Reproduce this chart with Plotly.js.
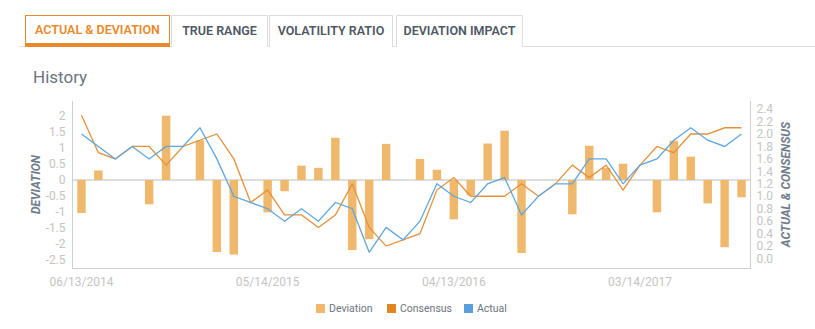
<!DOCTYPE html>
<html><head><meta charset="utf-8">
<script src="https://cdn.plot.ly/plotly-3.0.1.min.js"></script>
<style>
html,body{margin:0;padding:0;background:#fff;width:815px;height:329px;overflow:hidden;font-family:Roboto,Arial,sans-serif;}
#wrap{position:relative;width:815px;height:329px;}
#chart{position:absolute;left:0;top:0;width:815px;height:329px;}
.tabline{position:absolute;left:19px;right:0;top:46px;height:1px;background:#dedede;}
.tab{position:absolute;top:15px;height:32px;box-sizing:border-box;border:1px solid #dcdcdc;border-bottom:none;font-size:12.5px;font-weight:600;color:#4e5764;text-align:center;line-height:30px;background:#fff;white-space:nowrap;}
.tab.active{border:1px solid #e8892a;border-bottom:4px solid #e8892a;color:#e8892a;line-height:27px;}
.history{position:absolute;left:33px;top:67px;font-size:17px;line-height:20px;color:#6b7480;}
.lg{position:absolute;top:302px;height:14px;font-size:10.5px;line-height:14px;color:#6c7380;white-space:nowrap;}
.lg i{display:inline-block;width:9px;height:9px;margin-right:4px;vertical-align:-1px;}
</style>
</head><body>
<div id="wrap">
  <div id="chart"></div>
  <div class="tabline"></div>
  <div class="tab active" style="left:25px;width:145px;">ACTUAL &amp; DEVIATION</div>
  <div class="tab" style="left:171px;width:97px;">TRUE RANGE</div>
  <div class="tab" style="left:269px;width:124px;">VOLATILITY RATIO</div>
  <div class="tab" style="left:396px;width:127px;">DEVIATION IMPACT</div>
  <div class="history">History</div>
  <div class="lg" style="left:316px;"><i style="background:#efb86d"></i>Deviation</div>
  <div class="lg" style="left:387px;"><i style="background:#e0861f"></i>Consensus</div>
  <div class="lg" style="left:464px;"><i style="background:#5a9fdc"></i>Actual</div>
</div>
<script>
const months = ['2014-06','2014-07','2014-08','2014-09','2014-10','2014-11','2014-12',
  '2015-01','2015-02','2015-03','2015-04','2015-05','2015-06','2015-07','2015-08','2015-09','2015-10','2015-11','2015-12',
  '2016-01','2016-02','2016-03','2016-04','2016-05','2016-06','2016-07','2016-08','2016-09','2016-10','2016-11','2016-12',
  '2017-01','2017-02','2017-03','2017-04','2017-05','2017-06','2017-07','2017-08','2017-09'];
const deviation = [-1.03,0.30,0,0,-0.76,2.01,0,1.24,-2.25,-2.33,0,-1.01,-0.35,0.45,0.38,1.32,-2.19,-1.85,1.13,0,
  0.66,0.32,-1.23,-0.48,1.14,1.54,-2.28,0,0,-1.07,1.07,0.38,0.51,0,-1.01,1.23,0.73,-0.73,-2.10,-0.54];
const consensus = [2.3,1.7,1.6,1.8,1.8,1.5,1.8,1.9,2.0,1.6,0.9,1.1,0.7,0.7,0.5,0.7,1.2,0.5,0.2,0.3,
  0.4,1.1,1.3,1.0,1.0,1.0,1.2,1.0,1.2,1.5,1.3,1.5,1.1,1.5,1.8,1.7,2.0,2.0,2.1,2.1];
const actual = [2.0,1.8,1.6,1.8,1.6,1.8,1.8,2.1,1.6,1.0,0.9,0.8,0.6,0.8,0.6,0.9,0.8,0.1,0.5,0.3,
  0.6,1.2,1.0,0.9,1.2,1.3,0.7,1.0,1.2,1.2,1.6,1.6,1.2,1.5,1.6,1.9,2.1,1.9,1.8,2.0];
const xTickMonths = ['2014-06','2015-05','2016-04','2017-03'];
const xTickLabels = ['06/13/2014','05/14/2015','04/13/2016','03/14/2017'];
const devTicks = [-2.5,-2,-1.5,-1,-0.5,0,0.5,1,1.5,2];
const devTickLabels = ['-2.5','-2','-1.5','-1','-0.5','0','0.5','1','1.5','2'];

const tickFont = {family:'Roboto, Arial, sans-serif', size:12, color:'#c4c4c4'};
const titleFont = {family:'Roboto, Arial, sans-serif', size:12, color:'#6f7c8b', weight:700, style:'italic'};

const traces = [
  {type:'bar', name:'Deviation', x:months, y:deviation, yaxis:'y', width:0.5,
   marker:{color:'#efb86d'}, hoverinfo:'x+y'},
  {type:'scatter', mode:'lines', name:'Consensus', x:months, y:consensus, yaxis:'y2',
   line:{color:'#e4913a', width:1.3}},
  {type:'scatter', mode:'lines', name:'Actual', x:months, y:actual, yaxis:'y2',
   line:{color:'#5ea6df', width:1.3}}
];

const layout = {
  width:815, height:329,
  margin:{l:73, r:65, t:101, b:60.5, pad:0},
  paper_bgcolor:'rgba(0,0,0,0)', plot_bgcolor:'rgba(0,0,0,0)',
  showlegend:false,
  xaxis:{type:'category', range:[-0.5,39.5], showgrid:false, zeroline:false,
    showline:true, linecolor:'#cfcfcf', linewidth:1,
    tickmode:'array', tickvals:xTickMonths, ticktext:xTickLabels, tickfont:tickFont, ticks:'',
    ticklabelstandoff:3},
  yaxis:{range:[-2.75,2.47], showgrid:false, zeroline:true, zerolinecolor:'#dddddd', zerolinewidth:1.5,
    showline:true, linecolor:'#cfcfcf', linewidth:1,
    tickmode:'array', tickvals:devTicks, ticktext:devTickLabels, tickfont:tickFont, ticks:'',
    ticklabelstandoff:4,
    title:{text:'DEVIATION', font:titleFont, standoff:2}},
  yaxis2:{overlaying:'y', side:'right', range:[-0.152,2.53], dtick:0.2, tick0:0, tickformat:'.1f',
    showgrid:false, zeroline:false, showline:true, linecolor:'#cfcfcf', linewidth:1,
    tickfont:tickFont, ticks:'', ticklabelstandoff:3,
    title:{text:'ACTUAL &amp; CONSENSUS', font:titleFont, standoff:9}}
};

Plotly.newPlot('chart', traces, layout, {displayModeBar:false, staticPlot:true});
</script>
</body></html>
